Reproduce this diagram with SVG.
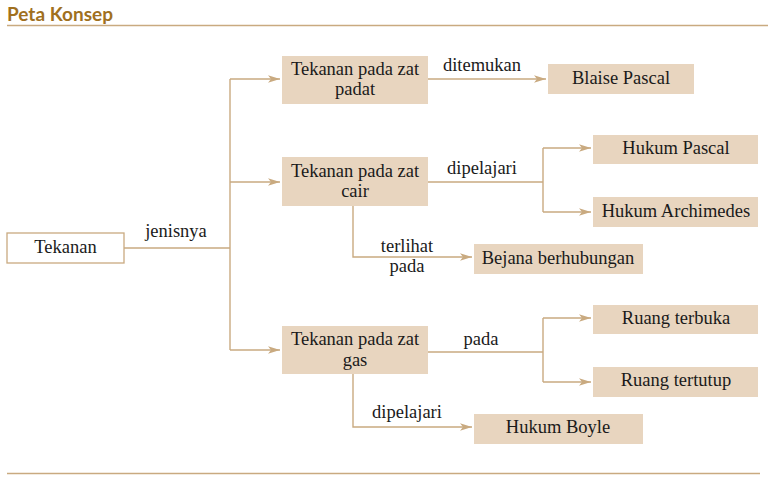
<svg xmlns="http://www.w3.org/2000/svg" width="768" height="480" viewBox="0 0 768 480">
<style>
.box{fill:#e8d5bf}
.wbox{fill:#ffffff;stroke:#c9aa80;stroke-width:1.3}
.t{font-family:"Liberation Serif","Times New Roman",serif;font-size:18.5px;fill:#1a1a1a;text-anchor:middle}
.ln{fill:none;stroke:#c9aa80;stroke-width:1.4}
.title{font-family:Lato,"Liberation Sans",sans-serif;font-weight:bold;font-size:19px;fill:#a0701e}
</style>
<defs>
<marker id="ah" markerUnits="userSpaceOnUse" markerWidth="14" markerHeight="10" refX="12" refY="5" orient="auto">
<path d="M0,1.2 L12,5 L0,8.8 L3,5 Z" fill="#c9aa80"/>
</marker>
</defs>
<rect width="768" height="480" fill="#ffffff"/>
<text class="title" x="7" y="21">Peta Konsep</text>
<line x1="7" y1="25.5" x2="768" y2="25.5" stroke="#c9aa80" stroke-width="1.3"/>
<line x1="7" y1="473.5" x2="760" y2="473.5" stroke="#c9aa80" stroke-width="1.3"/>

<g id="connectors">
<path class="ln" d="M124,248 H230"/>
<path class="ln" d="M230,79 V350"/>
<path class="ln" d="M230,79 H280" marker-end="url(#ah)"/>
<path class="ln" d="M230,182 H280" marker-end="url(#ah)"/>
<path class="ln" d="M230,350 H280" marker-end="url(#ah)"/>
<path class="ln" d="M428,79 H546" marker-end="url(#ah)"/>
<path class="ln" d="M428,182 H543"/>
<path class="ln" d="M543,148 V212"/>
<path class="ln" d="M543,148 H591" marker-end="url(#ah)"/>
<path class="ln" d="M543,212 H591" marker-end="url(#ah)"/>
<path class="ln" d="M353,206 V257 H472" marker-end="url(#ah)"/>
<path class="ln" d="M428,352 H543"/>
<path class="ln" d="M543,318 V382"/>
<path class="ln" d="M543,318 H591" marker-end="url(#ah)"/>
<path class="ln" d="M543,382 H591" marker-end="url(#ah)"/>
<path class="ln" d="M353,374 V427 H472" marker-end="url(#ah)"/>
<text class="t" x="176" y="237">jenisnya</text>
<text class="t" x="482" y="71">ditemukan</text>
<text class="t" x="482" y="174">dipelajari</text>
<text class="t" x="407" y="252">terlihat</text>
<text class="t" x="407" y="272">pada</text>
<text class="t" x="481" y="345">pada</text>
<text class="t" x="407" y="418">dipelajari</text>
</g>

<g id="n-tekanan">
<rect class="wbox" x="7" y="233" width="117" height="30"/>
<text class="t" x="65.5" y="253">Tekanan</text>
</g>
<g id="n-padat">
<rect class="box" x="282" y="56" width="146" height="48"/>
<text class="t" x="355" y="75">Tekanan pada zat</text>
<text class="t" x="355" y="95">padat</text>
</g>
<g id="n-cair">
<rect class="box" x="282" y="157" width="146" height="49"/>
<text class="t" x="355" y="177">Tekanan pada zat</text>
<text class="t" x="355" y="197">cair</text>
</g>
<g id="n-gas">
<rect class="box" x="282" y="326" width="146" height="48"/>
<text class="t" x="355" y="345">Tekanan pada zat</text>
<text class="t" x="355" y="366">gas</text>
</g>
<g id="n-blaise">
<rect class="box" x="548" y="64" width="146" height="30"/>
<text class="t" x="621" y="84">Blaise Pascal</text>
</g>
<g id="n-hpascal">
<rect class="box" x="593" y="135" width="165" height="29"/>
<text class="t" x="676" y="154">Hukum Pascal</text>
</g>
<g id="n-harch">
<rect class="box" x="593" y="197" width="165" height="30"/>
<text class="t" x="676" y="217">Hukum Archimedes</text>
</g>
<g id="n-bejana">
<rect class="box" x="474" y="244" width="169" height="30"/>
<text class="t" x="558" y="264">Bejana berhubungan</text>
</g>
<g id="n-terbuka">
<rect class="box" x="593" y="305" width="165" height="29"/>
<text class="t" x="676" y="324">Ruang terbuka</text>
</g>
<g id="n-tertutup">
<rect class="box" x="593" y="367" width="165" height="30"/>
<text class="t" x="676" y="386">Ruang tertutup</text>
</g>
<g id="n-boyle">
<rect class="box" x="474" y="414" width="169" height="30"/>
<text class="t" x="558" y="433">Hukum Boyle</text>
</g>
</svg>
